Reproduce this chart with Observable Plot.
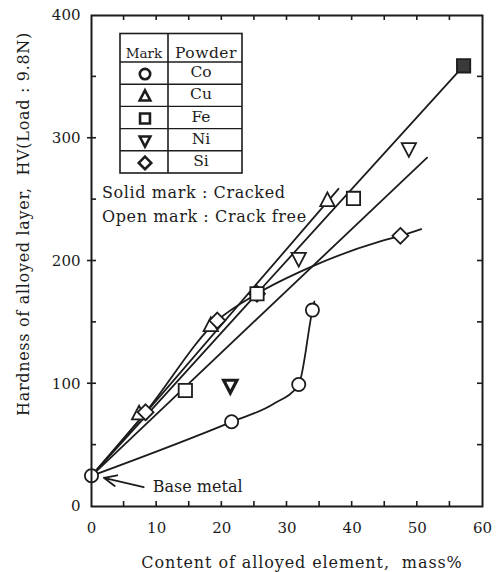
<!DOCTYPE html>
<html><head><meta charset="utf-8">
<script src="https://cdn.jsdelivr.net/npm/d3@7"></script>
<script src="https://cdn.jsdelivr.net/npm/@observablehq/plot@0.6"></script>
<style>
html,body{margin:0;padding:0;background:#fff;}
</style></head><body><div id="chart"></div>
<script>
// ---- data ----
const xTicks = [0, 10, 20, 30, 40, 50, 60];
const yTicks = [0, 100, 200, 300, 400];
const baseMetal = [[0, 25]];
const coPoints = [[21.5, 69], [31.8, 99.4], [33.9, 160]];
const coCurve = [[0, 25], [21.5, 69], [27.9, 83.5], [31.8, 99.4], [33.9, 160], [34.2, 167]];
const cuPoints = [[7.3, 75.5], [18.3, 147.5], [36.2, 249.3]];
const cuLine = [[0, 25], [37.9, 258.8]];
const fePoints = [[14.4, 94.5], [25.4, 173.3], [40.2, 251]];
const feCracked = [[57.1, 359]];
const feLine = [[0, 25], [57.1, 359]];
const niPoints = [[31.8, 202], [48.7, 291.4]];
const niCracked = [[21.3, 98.6]];
const niLine = [[0, 25], [51.5, 284.2]];
const siPoints = [[8.3, 76.8], [19.3, 151.5], [25.4, 173.3], [47.4, 220.5]];
const siCurve = [[0, 25], [8.3, 76.8], [19.3, 151.5], [25.4, 173.3], [33.6, 195], [44.3, 216], [47.4, 220.5], [50.6, 226]];
const powders = ["Co", "Cu", "Fe", "Ni", "Si"];
const baseArrow = [{x1: 8.0, y1: 15.7, x2: 1.9, y2: 23.4}];
const baseLabel = [{x: 9.4, y: 15.7, text: "Base metal"}];
const notes = ["Solid mark : Cracked", "Open mark : Crack free"];
const xTitle = "Content of alloyed element,  mass%";
const yTitle = "Hardness of alloyed layer,  HV(Load : 9.8N)";

// ---- symbols ----
const sym = {
  circle: {draw(c, s) { const r = Math.sqrt(s / Math.PI); c.moveTo(r, 0); c.arc(0, 0, r, 0, 2 * Math.PI); }},
  square: {draw(c, s) { const r = Math.sqrt(s / Math.PI) * 0.95; c.rect(-r, -r, 2 * r, 2 * r); }},
  triUp: {draw(c, s) { const r = Math.sqrt(s / Math.PI); c.moveTo(0, -r * 1.15); c.lineTo(r * 1.02, r * 0.8); c.lineTo(-r * 1.02, r * 0.8); c.closePath(); }},
  triDown: {draw(c, s) { const r = Math.sqrt(s / Math.PI); c.moveTo(0, r * 1.15); c.lineTo(r * 1.02, -r * 0.8); c.lineTo(-r * 1.02, -r * 0.8); c.closePath(); }},
  diamond: {draw(c, s) { const r = Math.sqrt(s / Math.PI) * 1.2; c.moveTo(0, -r); c.lineTo(r, 0); c.lineTo(0, r); c.lineTo(-r, 0); c.closePath(); }}
};
const symbolOf = {Co: sym.circle, Cu: sym.triUp, Fe: sym.square, Ni: sym.triDown, Si: sym.diamond};

const ink = "#1c1c1c";
const serif = "DejaVu Serif";
const lw = 1.8;

const lineMark = (d, extra = {}) => Plot.line(d, {x: "0", y: "1", stroke: ink, strokeWidth: lw, ...extra});
const dotMark = (d, symbol, r, extra = {}) => Plot.dot(d, {x: "0", y: "1", symbol, r, stroke: ink, strokeWidth: lw, fill: "white", ...extra});

const plot = Plot.plot({
  width: 497,
  height: 572,
  marginLeft: 91,
  marginRight: 15,
  marginTop: 15,
  marginBottom: 66,
  style: {fontFamily: serif, fontSize: "15px", background: "white", color: ink},
  x: {domain: [0, 60], ticks: xTicks, tickSize: 0, tickPadding: 16, label: null},
  y: {domain: [0, 400], ticks: yTicks, tickSize: 0, tickPadding: 11, label: null},
  marks: [
    lineMark(coCurve, {curve: "monotone-x"}),
    lineMark(siCurve, {curve: "monotone-x"}),
    lineMark(cuLine),
    lineMark(feLine),
    lineMark(niLine),
    dotMark(cuPoints, sym.triUp, 7),
    dotMark(siPoints, sym.diamond, 6.6),
    dotMark(fePoints, sym.square, 7),
    dotMark(feCracked, sym.square, 7, {fill: "#3a3a3a"}),
    dotMark(niPoints, sym.triDown, 7),
    dotMark(niCracked, sym.triDown, 6.5, {strokeWidth: 3.2}),
    dotMark(coPoints, sym.circle, 6.6),
    dotMark(baseMetal, sym.circle, 6.6),
    Plot.arrow(baseArrow, {x1: "x1", y1: "y1", x2: "x2", y2: "y2", stroke: ink, strokeWidth: lw, headLength: 13, headAngle: 48}),
    Plot.text(baseLabel, {x: "x", y: "y", text: "text", textAnchor: "start", fontSize: 16, fill: ink, style: "letter-spacing:0.8px"}),
    Plot.frame({stroke: ink, strokeWidth: 2})
  ]
});

const svg = d3.select(plot);
const X = plot.scale("x"), Y = plot.scale("y");
const ticksG = svg.append("g").attr("stroke", ink).attr("stroke-width", 1.6);
const x0 = X.apply(0), x1 = X.apply(60), y0 = Y.apply(0), y1 = Y.apply(400);
for (let v = 5; v < 60; v += 5) {
  const px = X.apply(v);
  ticksG.append("line").attr("x1", px).attr("x2", px).attr("y1", y0).attr("y2", y0 - 5);
  ticksG.append("line").attr("x1", px).attr("x2", px).attr("y1", y1).attr("y2", y1 + 5);
}
for (let v = 50; v < 400; v += 50) {
  const py = Y.apply(v);
  const major = v % 100 === 0;
  ticksG.append("line").attr("x1", x0 - (major ? 4 : 0)).attr("x2", x0 + 5).attr("y1", py).attr("y2", py);
  ticksG.append("line").attr("x1", x1).attr("x2", x1 - 5).attr("y1", py).attr("y2", py);
}

// axis titles
svg.append("text").attr("x", 302).attr("y", 568).attr("text-anchor", "middle")
  .attr("font-family", serif).attr("font-size", 16).attr("fill", ink)
  .style("letter-spacing", "0.9px").text(xTitle);
svg.append("text").attr("transform", "translate(29,224) rotate(-90)").attr("text-anchor", "middle")
  .attr("font-family", serif).attr("font-size", 16).attr("fill", ink)
  .style("letter-spacing", "0.7px").text(yTitle);

// legend table
const L = {left: 120, right: 242, col: 168, top: 33.5, head: 62, bottom: 173};
const rowH = (L.bottom - L.head) / powders.length;
const lg = svg.append("g").attr("font-family", serif).attr("fill", ink);
lg.append("rect").attr("x", L.left).attr("y", L.top).attr("width", L.right - L.left).attr("height", L.bottom - L.top)
  .attr("fill", "white").attr("stroke", ink).attr("stroke-width", 1.6);
lg.append("line").attr("x1", L.col).attr("x2", L.col).attr("y1", L.top).attr("y2", L.bottom).attr("stroke", ink).attr("stroke-width", 1.6);
lg.append("line").attr("x1", L.left).attr("x2", L.right).attr("y1", L.head).attr("y2", L.head).attr("stroke", ink).attr("stroke-width", 1.6);
lg.append("text").attr("x", (L.left + L.col) / 2).attr("y", 58).attr("text-anchor", "middle").attr("font-size", 13.5).text("Mark");
lg.append("text").attr("x", 206).attr("y", 58).attr("text-anchor", "middle").attr("font-size", 15.5).style("letter-spacing", "0.5px").text("Powder");
powders.forEach((p, i) => {
  const yTop = L.head + i * rowH;
  if (i > 0) lg.append("line").attr("x1", L.left).attr("x2", L.right).attr("y1", yTop).attr("y2", yTop).attr("stroke", ink).attr("stroke-width", 1.4);
  const cy = yTop + rowH / 2 + 1;
  lg.append("path").attr("transform", `translate(${(L.left + L.col) / 2 + 1},${cy})`)
    .attr("d", d3.symbol(symbolOf[p], Math.PI * 5.2 * 5.2)())
    .attr("fill", "white").attr("stroke", ink).attr("stroke-width", 2.6);
  lg.append("text").attr("x", 201).attr("y", yTop + rowH / 2 + 4).attr("text-anchor", "middle").attr("font-size", 15.5).text(p);
});
svg.append("text").attr("x", 102).attr("y", 198).attr("text-anchor", "start").attr("font-family", serif).attr("font-size", 16).attr("fill", ink)
  .style("letter-spacing", "0.6px").text(notes[0]);
svg.append("text").attr("x", 102).attr("y", 222).attr("text-anchor", "start").attr("font-family", serif).attr("font-size", 16).attr("fill", ink)
  .style("letter-spacing", "0.6px").text(notes[1]);

document.getElementById("chart").appendChild(plot);
</script></body></html>
